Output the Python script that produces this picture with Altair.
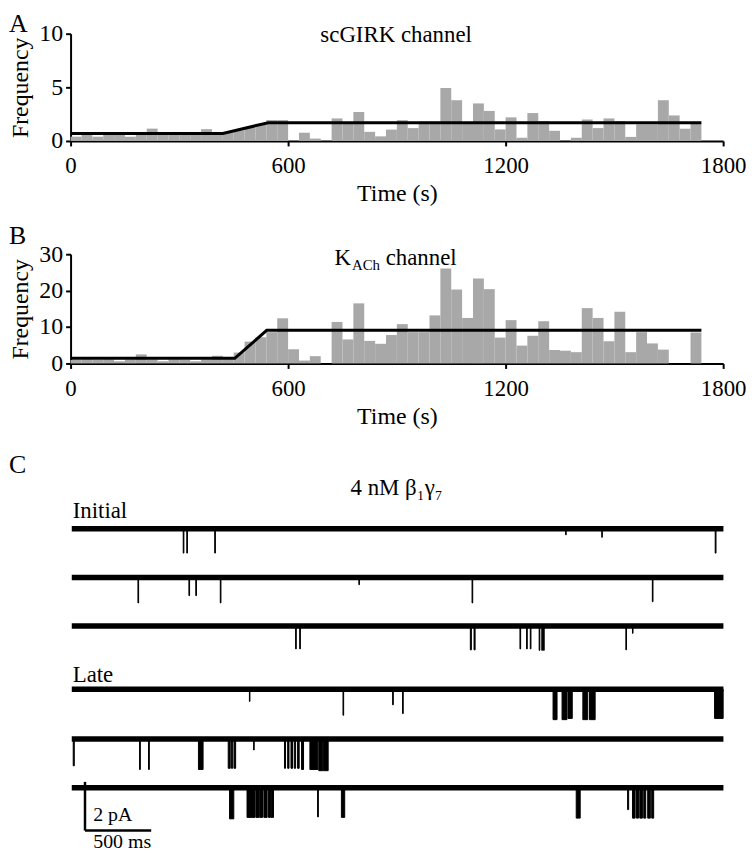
import altair as alt
import pandas as pd

# ---------------- data ----------------
BIN_WIDTH_S = 30
A_FREQ = [0.4, 0.6, 0.4, 0.6, 0.6, 0.4, 0.6, 1.15, 0.6, 0.6,
          0.6, 0.6, 1.1, 0.6, 0.8, 1.0, 1.3, 1.6, 1.95, 1.95,
          0.0, 0.77, 0.22, 0.0, 2.1, 1.6, 2.7, 0.85, 0.43, 1.06,
          1.94, 1.2, 1.8, 1.8, 4.94, 3.8, 1.65, 3.5, 2.8, 1.08,
          2.2, 0.3, 2.6, 1.85, 0.95, 0.0, 0.3, 2.0, 1.2, 2.1,
          1.85, 0.38, 1.55, 1.55, 3.8, 2.38, 1.14, 1.6]
B_FREQ = [1.0, 1.1, 1.0, 1.1, 0.6, 1.1, 2.5, 1.1, 0.6, 1.1,
          1.0, 0.6, 1.1, 2.1, 1.2, 3.0, 6.0, 7.2, 8.6, 12.4,
          3.9, 0.8, 2.0, 0.0, 11.4, 6.6, 16.5, 6.2, 5.4, 7.8,
          10.8, 8.6, 8.6, 13.2, 26.1, 20.3, 12.5, 23.3, 20.4, 7.1,
          11.9, 4.9, 7.6, 11.6, 3.7, 3.5, 3.1, 15.2, 12.5, 6.1,
          14.2, 3.1, 8.6, 5.5, 3.8, 0.0, 0.0, 8.5]
A_FIT_T = [0, 420, 545, 1740]
A_FIT_F = [0.7, 0.7, 1.7, 1.7]
B_FIT_T = [0, 453, 541, 1740]
B_FIT_F = [1.4, 1.4, 9.1, 9.1]
X_TICKS = [0, 600, 1200, 1800]
A_Y_TICKS = [0, 5, 10]
B_Y_TICKS = [0, 10, 20, 30]

# single-channel traces: rows and events (start ms, duration ms, amplitude pA)
ROWS = ["Initial 1", "Initial 2", "Initial 3", "Late 1", "Late 2", "Late 3"]
TRACE_START_MS = 9
TRACE_END_MS = 4932
EVENTS = {
    "Initial 1": [(851, 5, 1.0), (878, 5, 1.0), (1089, 5, 1.0), (3740, 4, 0.25),
                  (4013, 4, 0.35), (4870, 6, 1.0)],
    "Initial 2": [(509, 5, 1.05), (894, 5, 0.75), (946, 5, 0.75), (1131, 5, 1.05),
                  (2178, 4, 0.3), (3033, 5, 1.05), (4395, 5, 1.0)],
    "Initial 3": [(1700, 5, 0.94), (1731, 5, 0.94), (3020, 8, 0.98), (3048, 8, 0.98),
                  (3395, 5, 0.94), (3445, 5, 0.94), (3473, 5, 0.94), (3540, 5, 1.0),
                  (3560, 5, 1.0), (3573, 5, 1.0), (4195, 5, 0.98), (4245, 4, 0.3)],
    "Late 1": [(1351, 4, 0.5), (2058, 5, 1.07), (2433, 5, 0.64), (2508, 5, 1.0),
               (3645, 30, 1.25), (3713, 37, 1.25), (3758, 32, 1.2), (3870, 37, 1.25),
               (3920, 43, 1.25), (4865, 65, 1.2)],
    "Late 2": [(20, 8, 1.1), (521, 6, 1.25), (589, 6, 1.25), (966, 35, 1.25),
               (1191, 15, 1.2), (1215, 10, 1.2), (1235, 12, 1.2), (1383, 4, 0.45),
               (1616, 8, 1.2), (1640, 10, 1.2), (1665, 12, 1.2), (1690, 10, 1.2),
               (1715, 12, 1.2), (1745, 15, 1.25), (1808, 60, 1.25), (1875, 30, 1.3),
               (1910, 36, 1.3)],
    "Late 3": [(1201, 32, 1.28), (1333, 60, 1.22), (1400, 25, 1.22), (1430, 20, 1.22),
               (1460, 25, 1.22), (1495, 15, 1.22), (1515, 18, 1.22), (1866, 6, 1.2),
               (2046, 25, 1.22), (3820, 30, 1.25), (4208, 8, 0.9), (4245, 20, 1.25),
               (4275, 15, 1.25), (4300, 20, 1.25), (4330, 15, 1.25), (4360, 20, 1.25),
               (4390, 15, 1.25)],
}
SCALE_BAR_MS = 500
SCALE_BAR_PA = 2

# ---------------- layout / style ----------------
ROW_OFFSET_PA = [0, 2, 4, 6.6, 8.65, 10.65]   # vertical stacking of the traces
SCALE_BAR_AT = (109, -12.41)                   # ms, pA corner of the bar
SERIF = "Liberation Serif"
GRAY = "#a8a8a8"
W = 657
HA, HB = 108, 110
C_DOMAIN = [-13.3, 3.45]
PX_PER_PA = 24.5
HC = round((C_DOMAIN[1] - C_DOMAIN[0]) * PX_PER_PA)

xs = alt.Scale(domain=[0, 1800], nice=False, zero=False)
XAX = alt.Axis(values=X_TICKS, title="Time (s)", format="d",
               labelFlush=False, labelOverlap=False)


def hist_panel(freq, fit_t, fit_f, ymax, yticks, height, letter, letter_y, labels):
    df = pd.DataFrame({"start": [i * BIN_WIDTH_S for i in range(len(freq))],
                       "freq": freq})
    df["end"] = df["start"] + BIN_WIDTH_S
    ys = alt.Scale(domain=[0, ymax], nice=False)
    yax = alt.Axis(values=yticks, title="Frequency", format="d",
                   labelFlush=False, labelOverlap=False)

    def X(field):
        return alt.X(field, scale=xs, axis=XAX)

    def Y(field):
        return alt.Y(field, scale=ys, axis=yax)

    bars = alt.Chart(df).mark_rect(color=GRAY).encode(
        x=X("start:Q"), x2="end:Q", y=Y("freq:Q"), y2=alt.datum(0))
    fit = alt.Chart(pd.DataFrame({"t": fit_t, "f": fit_f})).mark_line(
        color="black", strokeWidth=3).encode(x=X("t:Q"), y=Y("f:Q"))
    ldf = pd.DataFrame({"t": [-170], "f": [letter_y], "s": [letter]})
    let = alt.Chart(ldf).mark_text(font=SERIF, fontSize=26, align="left",
                                   baseline="alphabetic", color="black").encode(
        x=X("t:Q"), y=Y("f:Q"), text="s:N")
    layers = [bars, fit, let]
    for (t, f, s, size) in labels:
        tdf = pd.DataFrame({"t": [t], "f": [f], "s": [s]})
        layers.append(alt.Chart(tdf).mark_text(
            font=SERIF, fontSize=size, align="left", baseline="alphabetic",
            color="black").encode(x=X("t:Q"), y=Y("f:Q"), text="s:N"))
    return alt.layer(*layers).properties(width=W, height=height)


panel_a = hist_panel(A_FREQ, A_FIT_T, A_FIT_F, 10, A_Y_TICKS, HA, "A", 10.15,
                     [(689, 9.26, "scGIRK channel", 23)])
panel_b = hist_panel(B_FREQ, B_FIT_T, B_FIT_F, 30, B_Y_TICKS, HB, "B", 32.9,
                     [(728, 27.0, "K", 23), (776, 25.6, "ACh", 15),
                      (869, 27.0, "channel", 23)])

# ---------------- panel C ----------------
cx = alt.Scale(domain=[0, 4930], nice=False, zero=False)
cy = alt.Scale(domain=C_DOMAIN, nice=False, zero=False)

base_df = pd.DataFrame({"row": ROWS, "t0": TRACE_START_MS, "t1": TRACE_END_MS,
                        "base": [-o for o in ROW_OFFSET_PA]})
ev_rows = []
for r, off in zip(ROWS, ROW_OFFSET_PA):
    for (s, d, a) in EVENTS[r]:
        ev_rows.append({"row": r, "t0": s, "t1": s + d, "y0": -off, "y1": -off - a})
ev_df = pd.DataFrame(ev_rows)

baselines = alt.Chart(base_df).mark_rule(color="black", strokeWidth=5.5).encode(
    x=alt.X("t0:Q", scale=cx, axis=None), x2="t1:Q",
    y=alt.Y("base:Q", scale=cy, axis=None))
events = alt.Chart(ev_df).mark_rect(color="black", stroke="black",
                                    strokeWidth=1).encode(
    x=alt.X("t0:Q", scale=cx, axis=None), x2="t1:Q",
    y=alt.Y("y0:Q", scale=cy, axis=None), y2="y1:Q")

bx, by = SCALE_BAR_AT
bar_df = pd.DataFrame({"x": [bx, bx], "x2": [bx, bx + SCALE_BAR_MS],
                       "y": [by + SCALE_BAR_PA, by], "y2": [by, by]})
scalebar = alt.Chart(bar_df).mark_rule(color="black", strokeWidth=2.5).encode(
    x=alt.X("x:Q", scale=cx, axis=None), x2="x2:Q",
    y=alt.Y("y:Q", scale=cy, axis=None), y2="y2:Q")

c_texts = [(-465, 2.29, "C", 26, "left"),
           (2463, 1.4, "4 nM β₁γ₇", 23, "center"),
           (16, 0.45, "Initial", 23, "left"),
           (16, -6.29, "Late", 23, "left"),
           (171, -12.0, "2 pA", 20, "left"),
           (171, -13.12, "500 ms", 20, "left")]
c_layers = [baselines, events, scalebar]
for (t, v, s, size, al) in c_texts:
    tdf = pd.DataFrame({"t": [t], "v": [v], "s": [s]})
    c_layers.append(alt.Chart(tdf).mark_text(
        font=SERIF, fontSize=size, align=al, baseline="alphabetic",
        color="black").encode(x=alt.X("t:Q", scale=cx, axis=None),
                              y=alt.Y("v:Q", scale=cy, axis=None), text="s:N"))
panel_c = alt.layer(*c_layers).properties(width=W, height=HC)

chart = alt.vconcat(panel_a, panel_b, panel_c, spacing=17).properties(
    padding={"left": 0, "top": 0, "right": 0, "bottom": 0}
).configure_view(stroke=None).configure_axis(
    grid=False, domainColor="black", domainWidth=2, tickColor="black",
    tickWidth=2, tickSize=5, labelFont=SERIF, labelColor="black",
    titleFont=SERIF, titleColor="black", titleFontWeight="normal",
    labelFontSize=23, titleFontSize=24,
).configure_axisY(labelFontSize=24, titleFontSize=24, titlePadding=6,
                  labelPadding=3).configure_axisX(labelPadding=9, titlePadding=4)

chart.save("out.html", embed_options={"renderer": "svg", "actions": False})
